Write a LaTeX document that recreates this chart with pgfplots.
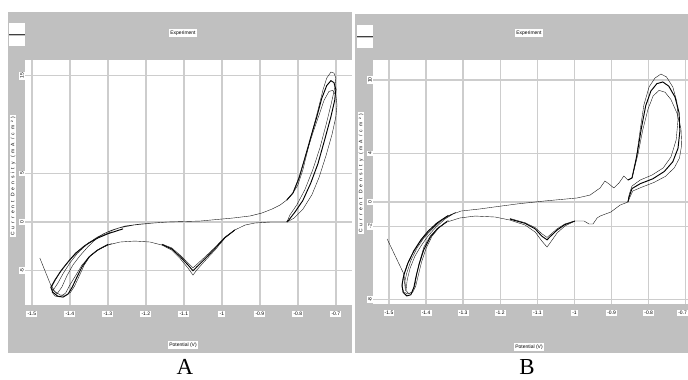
\documentclass[border=0pt]{standalone}
\usepackage{pgfplots}
\pgfplotsset{compat=1.18}
\usepackage{fontspec}
\setmainfont{Liberation Serif}
\newfontfamily\uifont{Liberation Sans}
\definecolor{framec}{RGB}{192,192,192}
\definecolor{gridc}{RGB}{205,205,205}
\pgfplotsset{cvstyle/.style={
  scale only axis,
  axis background/.style={fill=white},
  axis line style={draw=none},
  grid=major,
  major grid style={draw=gridc,line width=1.4bp},
  major tick length=0pt,
  tick style={draw=none},
  no markers,
  cycle list={{black!90,line width=0.95bp}},
  ticklabel style={font=\uifont\fontsize{5}{6}\selectfont, fill=white, inner sep=1.2bp},
  xticklabel style={yshift=-6bp},
  yticklabel style={rotate=90, anchor=south, xshift=0bp},
  /pgf/number format/assume math mode=true,
}}
\begin{document}
\begin{tikzpicture}[x=1bp,y=1bp]
\path[use as bounding box,fill=white] (0,0) rectangle (688,379);
% frames
\fill[framec] (8,26) rectangle (352,367);
\fill[framec] (355,26) rectangle (688,365);
% legend icons
\fill[white] (9,345) rectangle (25,356);
\fill[white] (9,333) rectangle (25,343.5);
\draw[black!75,line width=1.2bp] (9,344.3) -- (25,344.3);
\fill[white] (357,343) rectangle (373,354);
\fill[white] (357,331) rectangle (373,341.5);
\draw[black!75,line width=1.2bp] (357,342.3) -- (373,342.3);

% ---------------- Panel A ----------------
\begin{axis}[cvstyle, at={(25bp,74bp)}, anchor=south west, width=327bp, height=245bp,
  xmin=-1.518, xmax=-0.6575, ymin=-8.51, ymax=16.62,
  xtick={-1.5,-1.4,-1.3,-1.2,-1.1,-1,-0.9,-0.8,-0.7},
  xticklabels={-1.5,-1.4,-1.3,-1.2,-1.1,-1,-0.9,-0.8,-0.7},
  ytick={-5,0,5,15}, yticklabels={-5,0,5,15}]
% cycle 1
\addplot coordinates {
(-1.479,-3.69) (-1.445,-6.97) (-1.434,-7.38)
(-1.421,-6.67) (-1.408,-5.54) (-1.392,-4.41) (-1.374,-3.49) (-1.353,-2.56)
(-1.334,-1.85) (-1.313,-1.23) (-1.289,-0.82) (-1.255,-0.41) (-1.216,-0.21)
(-1.145,0) (-1.058,0.10) (-0.971,0.41) (-0.926,0.62) (-0.895,0.92)
(-0.868,1.33) (-0.847,1.74) (-0.829,2.26) (-0.813,2.97) (-0.800,3.79)
(-0.787,5.33) (-0.774,7.38) (-0.761,9.44) (-0.747,11.49) (-0.734,13.54)
(-0.724,14.77) (-0.713,15.38) (-0.705,15.28) (-0.700,14.77) (-0.703,13.74)
(-0.713,12.0) (-0.726,9.95) (-0.742,7.59) (-0.761,5.33) (-0.782,3.28)
(-0.803,1.74) (-0.821,0.72) (-0.826,0.25) (-0.829,0)
(-0.874,0) (-0.913,-0.10) (-0.939,-0.31) (-0.966,-0.82) (-0.992,-1.64)
(-1.018,-2.87) (-1.045,-4.0) (-1.066,-4.92) (-1.076,-5.44) (-1.089,-4.72)
(-1.111,-3.69) (-1.132,-2.87) (-1.158,-2.36) (-1.189,-2.05) (-1.229,-1.95)
(-1.268,-2.05) (-1.300,-2.36) (-1.326,-2.87) (-1.347,-3.49) (-1.368,-4.41)
(-1.384,-5.44) (-1.400,-6.46) (-1.411,-7.28) (-1.426,-7.69) (-1.439,-7.59)
(-1.447,-7.18) (-1.442,-6.87) (-1.432,-6.3) (-1.418,-5.3) (-1.400,-4.2)
(-1.380,-3.2) (-1.355,-2.3) (-1.330,-1.6) (-1.305,-1.1) (-1.270,-0.6)
(-1.230,-0.3) (-1.180,-0.1)
};
\addplot coordinates {
(-0.829,2.26) (-0.813,2.97) (-0.797,4.5) (-0.782,6.5) (-0.766,8.7) (-0.750,10.8)
(-0.737,12.7) (-0.724,14.0) (-0.713,14.5) (-0.705,14.3) (-0.700,13.6)
(-0.703,12.5) (-0.713,10.8) (-0.729,8.5) (-0.747,6.0) (-0.766,4.0)
(-0.787,2.2) (-0.808,1.0) (-0.824,0.2) (-0.829,0)
};
\addplot coordinates {
(-0.829,2.26) (-0.813,2.97) (-0.795,4.8) (-0.778,7.0) (-0.760,9.2) (-0.744,11.0)
(-0.731,12.5) (-0.718,13.4) (-0.708,13.5) (-0.700,13.0) (-0.697,12.0)
(-0.700,10.8) (-0.710,9.0) (-0.726,6.8) (-0.744,4.6) (-0.763,2.8)
(-0.787,1.3) (-0.810,0.4) (-0.829,0)
};
\addplot coordinates {
(-0.966,-0.82) (-0.992,-1.6) (-1.018,-2.7) (-1.045,-3.8) (-1.066,-4.6)
(-1.076,-5.0) (-1.089,-4.4) (-1.111,-3.5) (-1.132,-2.75) (-1.158,-2.3)
};
\addplot coordinates {
(-0.966,-0.82) (-0.992,-1.55) (-1.018,-2.6) (-1.045,-3.6) (-1.066,-4.35)
(-1.076,-4.7) (-1.089,-4.2) (-1.111,-3.35) (-1.132,-2.65) (-1.158,-2.25)
};
\addplot coordinates {
(-1.300,-2.3) (-1.328,-2.9) (-1.350,-3.6) (-1.368,-4.6) (-1.382,-5.7)
(-1.394,-6.7) (-1.405,-7.4) (-1.418,-7.7) (-1.432,-7.6) (-1.445,-7.2)
(-1.450,-6.7) (-1.440,-6.0) (-1.425,-5.1) (-1.405,-4.1) (-1.385,-3.2)
(-1.360,-2.4) (-1.330,-1.7) (-1.300,-1.2) (-1.260,-0.7)
};
\addplot coordinates {
(-1.290,-2.2) (-1.320,-2.7) (-1.345,-3.4) (-1.362,-4.4) (-1.376,-5.6)
(-1.388,-6.6) (-1.398,-7.2) (-1.410,-7.5) (-1.425,-7.5) (-1.440,-7.1)
(-1.447,-6.6) (-1.436,-5.8) (-1.420,-4.8) (-1.398,-3.8) (-1.375,-2.9)
(-1.350,-2.1) (-1.320,-1.45) (-1.290,-1.0)
};
\end{axis}

% ---------------- Panel B ----------------
\begin{axis}[cvstyle, at={(373bp,75bp)}, anchor=south west, width=315bp, height=244bp,
  xmin=-1.5431, xmax=-0.694, ymin=-8.36, ymax=11.64,
  xtick={-1.5,-1.4,-1.3,-1.2,-1.1,-1,-0.9,-0.8},
  xticklabels={-1.5,-1.4,-1.3,-1.2,-1.1,-1,-0.9,-0.8},
  extra x ticks={-0.7}, extra x tick labels={-0.7},
  extra x tick style={grid=major, xticklabel style={anchor=north east, xshift=2.5bp}},
  ytick={-8,-2,0,4,10}, yticklabels={-8,-2,0,4,10}]
\addplot coordinates {
(-1.505,-3.03) (-1.460,-5.90) (-1.457,-6.56) (-1.454,-7.21)
(-1.451,-6.39) (-1.443,-5.41) (-1.430,-4.43) (-1.414,-3.61) (-1.395,-2.79)
(-1.373,-2.05) (-1.349,-1.39) (-1.327,-0.98) (-1.306,-0.74) (-1.282,-0.66)
(-1.255,-0.57) (-1.217,-0.41) (-1.155,-0.16) (-1.082,0.08) (-0.993,0.33)
(-0.958,0.57) (-0.931,1.15) (-0.918,1.72) (-0.907,1.48) (-0.894,1.15)
(-0.880,1.56) (-0.867,2.13) (-0.856,1.80) (-0.845,1.97)
(-0.834,3.44) (-0.823,5.90) (-0.813,7.95) (-0.799,9.43) (-0.783,10.16)
(-0.767,10.49) (-0.752,10.25) (-0.735,9.43) (-0.724,8.20) (-0.721,6.72)
(-0.726,5.08) (-0.740,3.69) (-0.761,2.79) (-0.791,2.21) (-0.823,1.80)
(-0.845,1.31) (-0.853,0.57) (-0.856,0)
(-0.877,-0.25) (-0.902,-0.82) (-0.931,-1.15) (-0.939,-1.31) (-0.950,-1.80)
(-0.961,-1.80) (-0.974,-1.56) (-0.999,-1.56) (-1.026,-1.97) (-1.047,-2.54)
(-1.066,-3.36) (-1.074,-3.69) (-1.088,-3.20) (-1.106,-2.46) (-1.133,-1.89)
(-1.174,-1.48) (-1.214,-1.23) (-1.268,-1.15) (-1.309,-1.31) (-1.344,-1.64)
(-1.368,-2.13) (-1.389,-2.79) (-1.406,-3.69) (-1.416,-4.75) (-1.425,-5.82)
(-1.430,-6.80) (-1.438,-7.38) (-1.449,-7.54) (-1.460,-7.38) (-1.465,-6.97)
(-1.462,-6.2) (-1.452,-5.2) (-1.436,-4.2) (-1.417,-3.3) (-1.395,-2.5)
(-1.370,-1.8) (-1.345,-1.2) (-1.320,-0.85)
};
\addplot coordinates {
(-0.856,1.80) (-0.845,1.97) (-0.832,3.8) (-0.820,6.0) (-0.808,7.9) (-0.794,9.1)
(-0.778,9.7) (-0.762,9.84) (-0.746,9.5) (-0.729,8.6) (-0.718,7.3)
(-0.716,5.8) (-0.721,4.4) (-0.735,3.3) (-0.758,2.5) (-0.789,1.9)
(-0.823,1.5) (-0.845,1.1) (-0.853,0.4) (-0.856,0)
};
\addplot coordinates {
(-0.856,1.80) (-0.845,1.97) (-0.829,3.9) (-0.816,5.9) (-0.802,7.6) (-0.788,8.7)
(-0.772,9.15) (-0.756,9.0) (-0.740,8.4) (-0.724,7.3) (-0.713,6.0)
(-0.711,4.7) (-0.717,3.6) (-0.731,2.8) (-0.755,2.1) (-0.786,1.6)
(-0.820,1.2) (-0.843,0.9) (-0.852,0.3) (-0.856,0)
};
\addplot coordinates {
(-0.999,-1.56) (-1.026,-1.85) (-1.047,-2.3) (-1.066,-2.85) (-1.074,-3.1)
(-1.088,-2.8) (-1.106,-2.2) (-1.133,-1.75) (-1.174,-1.4)
};
\addplot coordinates {
(-0.999,-1.56) (-1.026,-1.8) (-1.047,-2.2) (-1.066,-2.7) (-1.074,-2.9)
(-1.088,-2.6) (-1.106,-2.1) (-1.133,-1.7) (-1.174,-1.35)
};
\addplot coordinates {
(-1.344,-1.6) (-1.370,-2.2) (-1.389,-2.9) (-1.406,-3.9) (-1.418,-5.0)
(-1.427,-6.1) (-1.433,-7.0) (-1.441,-7.6) (-1.452,-7.7) (-1.462,-7.4)
(-1.465,-6.8) (-1.460,-6.0) (-1.449,-5.0) (-1.433,-4.0) (-1.414,-3.1)
(-1.395,-2.4) (-1.370,-1.7) (-1.340,-1.1)
};
\addplot coordinates {
(-1.340,-1.5) (-1.365,-2.1) (-1.384,-2.8) (-1.400,-3.8) (-1.412,-4.9)
(-1.421,-6.0) (-1.428,-6.9) (-1.436,-7.4) (-1.447,-7.5) (-1.456,-7.2)
(-1.458,-6.6) (-1.452,-5.8) (-1.441,-4.8) (-1.425,-3.8) (-1.405,-2.9)
(-1.383,-2.2) (-1.360,-1.5) (-1.330,-1.0)
};
\end{axis}

% titles and labels
\node[fill=white,inner sep=1.2bp,font=\uifont\fontsize{5}{6}\selectfont] at (183,346) {Experiment};
\node[fill=white,inner sep=1.2bp,font=\uifont\fontsize{5}{6}\selectfont] at (529,346) {Experiment};
\node[fill=white,inner sep=1.2bp,font=\uifont\fontsize{5}{6}\selectfont] at (183,34) {Potential (V)};
\node[fill=white,inner sep=1.2bp,font=\uifont\fontsize{5}{6}\selectfont] at (529,32) {Potential (V)};
\node[rotate=90,fill=white,inner sep=1bp,font=\uifont\fontsize{5}{6}\selectfont\addfontfeature{LetterSpace=60}] at (13,203) {Current Density (mA/cm²)};
\node[rotate=90,fill=white,inner sep=1bp,font=\uifont\fontsize{5}{6}\selectfont\addfontfeature{LetterSpace=60}] at (361,206) {Current Density (mA/cm²)};
\node[anchor=base,inner sep=0pt,text depth=0pt,font=\fontsize{23}{25}\selectfont] at (185,4.5) {A};
\node[anchor=base,inner sep=0pt,text depth=0pt,font=\fontsize{23}{25}\selectfont] at (527,4.5) {B};
\end{tikzpicture}
\end{document}
